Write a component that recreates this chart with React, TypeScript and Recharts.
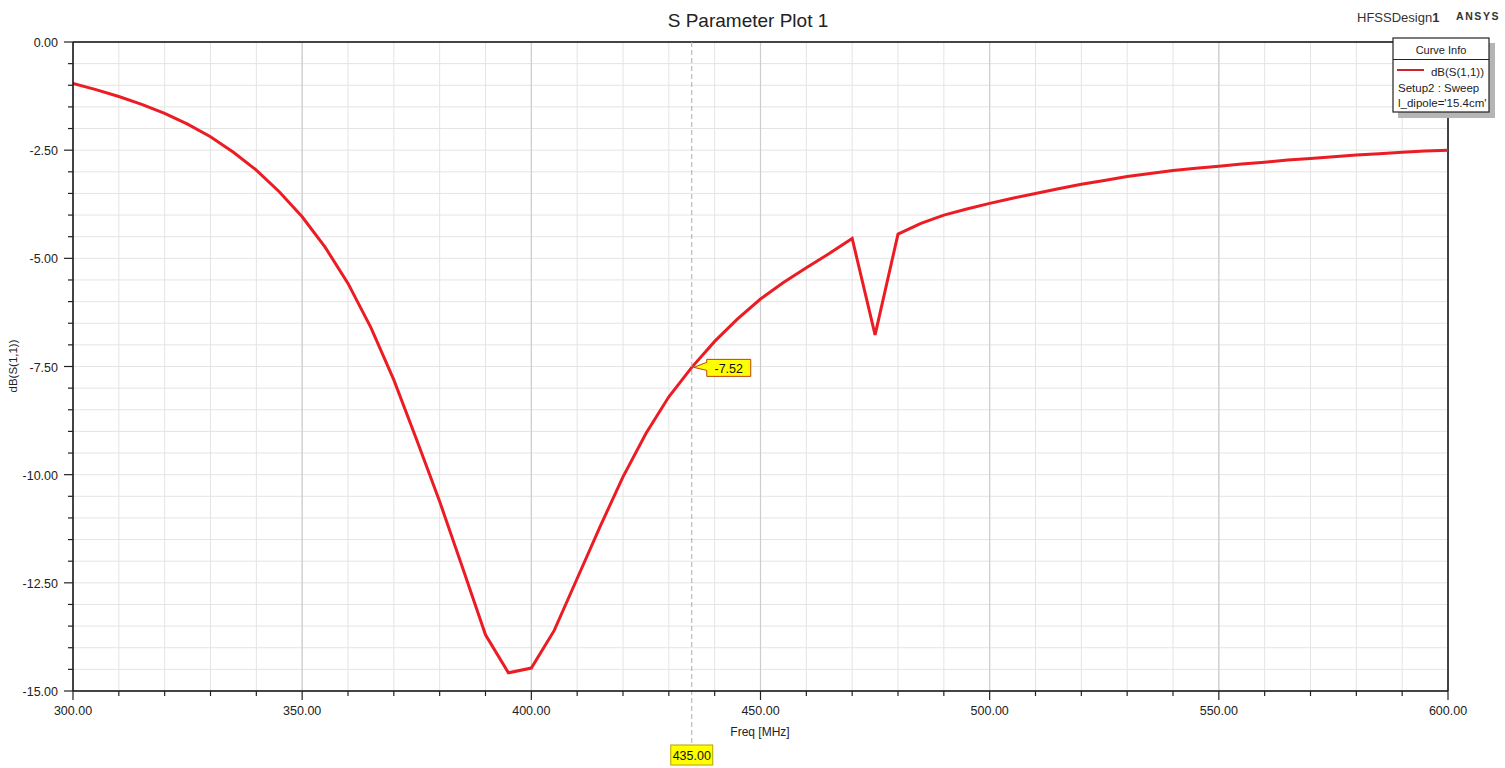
import React from 'react';
import { LineChart, Line, XAxis, YAxis, CartesianGrid, ReferenceLine, ReferenceDot } from 'recharts';

const freqs = [300, 305, 310, 315, 320, 325, 330, 335, 340, 345, 350, 355, 360, 365, 370, 375, 380, 385, 390, 395, 400, 405, 410, 415, 420, 425, 430, 435, 440, 445, 450, 455, 460, 465, 470, 475, 480, 485, 490, 495, 500, 505, 510, 515, 520, 525, 530, 535, 540, 545, 550, 555, 560, 565, 570, 575, 580, 585, 590, 595, 600];
const s11 = [-0.96, -1.1, -1.26, -1.44, -1.65, -1.9, -2.19, -2.55, -2.96, -3.46, -4.04, -4.74, -5.58, -6.6, -7.81, -9.2, -10.62, -12.15, -13.7, -14.58, -14.47, -13.6, -12.4, -11.2, -10.05, -9.05, -8.2, -7.52, -6.92, -6.4, -5.94, -5.56, -5.22, -4.89, -4.54, -6.77, -4.44, -4.19, -4.0, -3.86, -3.73, -3.61, -3.5, -3.39, -3.29, -3.2, -3.11, -3.04, -2.97, -2.92, -2.87, -2.82, -2.78, -2.73, -2.69, -2.65, -2.61, -2.58, -2.55, -2.52, -2.5];

const xTicks = [300, 310, 320, 330, 340, 350, 360, 370, 380, 390, 400, 410, 420, 430, 440, 450, 460, 470, 480, 490, 500, 510, 520, 530, 540, 550, 560, 570, 580, 590, 600];
const xMajorTicks = [300, 350, 400, 450, 500, 550, 600];
const yTicks = [0, -0.5, -1, -1.5, -2, -2.5, -3, -3.5, -4, -4.5, -5, -5.5, -6, -6.5, -7, -7.5, -8, -8.5, -9, -9.5, -10, -10.5, -11, -11.5, -12, -12.5, -13, -13.5, -14, -14.5, -15];
const yMajorTicks = [0, -2.5, -5, -7.5, -10, -12.5, -15];

const markerFreq = 435;
const markerValue = -7.52;

const data = freqs.map((f, i) => ({ freq: f, s11: s11[i] }));

const FONT = "Arial, 'Liberation Sans', sans-serif";

const isMajorX = (v: number) => xMajorTicks.includes(v);
const isMajorY = (v: number) => yMajorTicks.some((m) => Math.abs(m - v) < 1e-9);

const XTick = (props: any) => {
  const { x, y, payload } = props;
  const major = isMajorX(payload.value);
  return (
    <g>
      <line x1={x} y1={y} x2={x} y2={y + (major ? 9 : 5)} stroke="#222" strokeWidth={1.2} />
      {major && (
        <text x={x} y={y + 24} textAnchor="middle" fontSize={12.5} fontFamily={FONT} fill="#222">
          {Number(payload.value).toFixed(2)}
        </text>
      )}
    </g>
  );
};

const YTick = (props: any) => {
  const { x, y, payload } = props;
  const major = isMajorY(payload.value);
  return (
    <g>
      <line x1={x} y1={y} x2={x - (major ? 9 : 5)} y2={y} stroke="#222" strokeWidth={1.2} />
      {major && (
        <text x={x - 15} y={y + 5} textAnchor="end" fontSize={12.5} fontFamily={FONT} fill="#222">
          {Number(payload.value).toFixed(2)}
        </text>
      )}
    </g>
  );
};

const MarkerLine = (props: any) => {
  const { x1, y1, x2, y2 } = props;
  const bottom = Math.max(y1, y2);
  const top = Math.min(y1, y2);
  return (
    <g>
      <line x1={x1} y1={top} x2={x2} y2={bottom + 54} stroke="#aaaaaa" strokeWidth={1} strokeDasharray="5 3" />
      <rect x={x1 - 21} y={bottom + 54} width={42} height={20} fill="#ffff00" stroke="#b8a000" strokeWidth={1} />
      <text x={x1} y={bottom + 69} textAnchor="middle" fontSize={12.5} fontFamily={FONT} fill="#111">
        {markerFreq.toFixed(2)}
      </text>
    </g>
  );
};

const MarkerCallout = (props: any) => {
  const { cx, cy } = props;
  const bx = cx + 15;
  const path = `M ${cx + 2} ${cy} L ${bx} ${cy - 5} L ${bx} ${cy - 8} L ${bx + 44} ${cy - 8} L ${bx + 44} ${cy + 9} L ${bx} ${cy + 9} L ${bx} ${cy + 3} Z`;
  return (
    <g>
      <path d={path} fill="#ffff00" stroke="#c04000" strokeWidth={1} />
      <text x={bx + 22} y={cy + 6} textAnchor="middle" fontSize={12.5} fontFamily={FONT} fill="#111">
        {markerValue.toFixed(2)}
      </text>
    </g>
  );
};

export default function App() {
  return (
    <div style={{ position: 'absolute', left: 0, top: 0, width: 1505, height: 768, background: '#fff' }}>
      <LineChart width={1505} height={768} data={data} margin={{ top: 42, right: 57, bottom: 0, left: 0 }}>
        <XAxis
          xAxisId="x"
          dataKey="freq"
          type="number"
          domain={[300, 600]}
          ticks={xTicks}
          interval={0}
          height={77}
          tickSize={0}
          tickMargin={0}
          tickLine={false}
          axisLine={{ stroke: '#111', strokeWidth: 1.5 }}
          tick={XTick}
          allowDataOverflow
        />
        <XAxis xAxisId="xm" dataKey="freq" type="number" domain={[300, 600]} ticks={xMajorTicks} interval={0} hide />
        <YAxis
          yAxisId="y"
          type="number"
          domain={[-15, 0]}
          ticks={yTicks}
          interval={0}
          width={73}
          tickSize={0}
          tickMargin={0}
          tickLine={false}
          axisLine={{ stroke: '#111', strokeWidth: 1.5 }}
          tick={YTick}
          allowDataOverflow
        />
        <YAxis yAxisId="ym" type="number" domain={[-15, 0]} ticks={yMajorTicks} interval={0} hide />
        <CartesianGrid xAxisId="x" yAxisId="y" stroke="#e4e4e4" strokeWidth={1} />
        <CartesianGrid xAxisId="xm" yAxisId="ym" stroke="#cdcdcd" strokeWidth={1.2} />
        <ReferenceLine xAxisId="x" yAxisId="y" y={0} stroke="#111" strokeWidth={1.5} />
        <ReferenceLine xAxisId="x" yAxisId="y" x={600} stroke="#111" strokeWidth={1.5} />
        <Line
          xAxisId="x"
          yAxisId="y"
          type="linear"
          dataKey="s11"
          stroke="#ec1c24"
          strokeWidth={3}
          dot={false}
          isAnimationActive={false}
        />
        <ReferenceLine xAxisId="x" yAxisId="y" x={markerFreq} shape={MarkerLine} />
        <ReferenceDot xAxisId="x" yAxisId="y" x={markerFreq} y={markerValue} shape={MarkerCallout} />
      </LineChart>
      <svg
        width={1505}
        height={768}
        style={{ position: 'absolute', left: 0, top: 0, pointerEvents: 'none' }}
      >
        <text x={748} y={27} textAnchor="middle" fontSize={19} fontFamily={FONT} fill="#222">
          S Parameter Plot 1
        </text>
        <text x={1357} y={22} fontSize={13} fontFamily={FONT} fill="#333">
          HFSSDesign<tspan fontWeight="bold">1</tspan>
        </text>
        <text x={1456} y={20} fontSize={10.5} fontWeight="bold" letterSpacing={1.6} fontFamily={FONT} fill="#333">
          ANSYS
        </text>
        <text
          x={17}
          y={366}
          transform="rotate(-90 17 366)"
          textAnchor="middle"
          fontSize={11.5}
          fontFamily={FONT}
          fill="#222"
        >
          dB(S(1,1))
        </text>
        <text x={760} y={736} textAnchor="middle" fontSize={12} fontFamily={FONT} fill="#222">
          Freq [MHz]
        </text>
        <rect x={1398} y={43} width={97} height={75} fill="#b5b5b5" />
        <rect x={1393} y={38} width={96} height={74} fill="#fff" stroke="#222" strokeWidth={1.2} />
        <line x1={1393} y1={59.5} x2={1489} y2={59.5} stroke="#222" strokeWidth={1} />
        <text x={1441} y={54} textAnchor="middle" fontSize={11} fontFamily={FONT} fill="#222">
          Curve Info
        </text>
        <line x1={1397} y1={70} x2={1424} y2={70} stroke="#c8242c" strokeWidth={2} />
        <text x={1484} y={76} textAnchor="end" fontSize={11.5} fontFamily={FONT} fill="#222">
          dB(S(1,1))
        </text>
        <text x={1398} y={92} fontSize={11.5} fontFamily={FONT} fill="#222">
          Setup2 : Sweep
        </text>
        <text x={1398} y={107} fontSize={11.5} fontFamily={FONT} fill="#222">
          l_dipole='15.4cm'
        </text>
      </svg>
    </div>
  );
}
